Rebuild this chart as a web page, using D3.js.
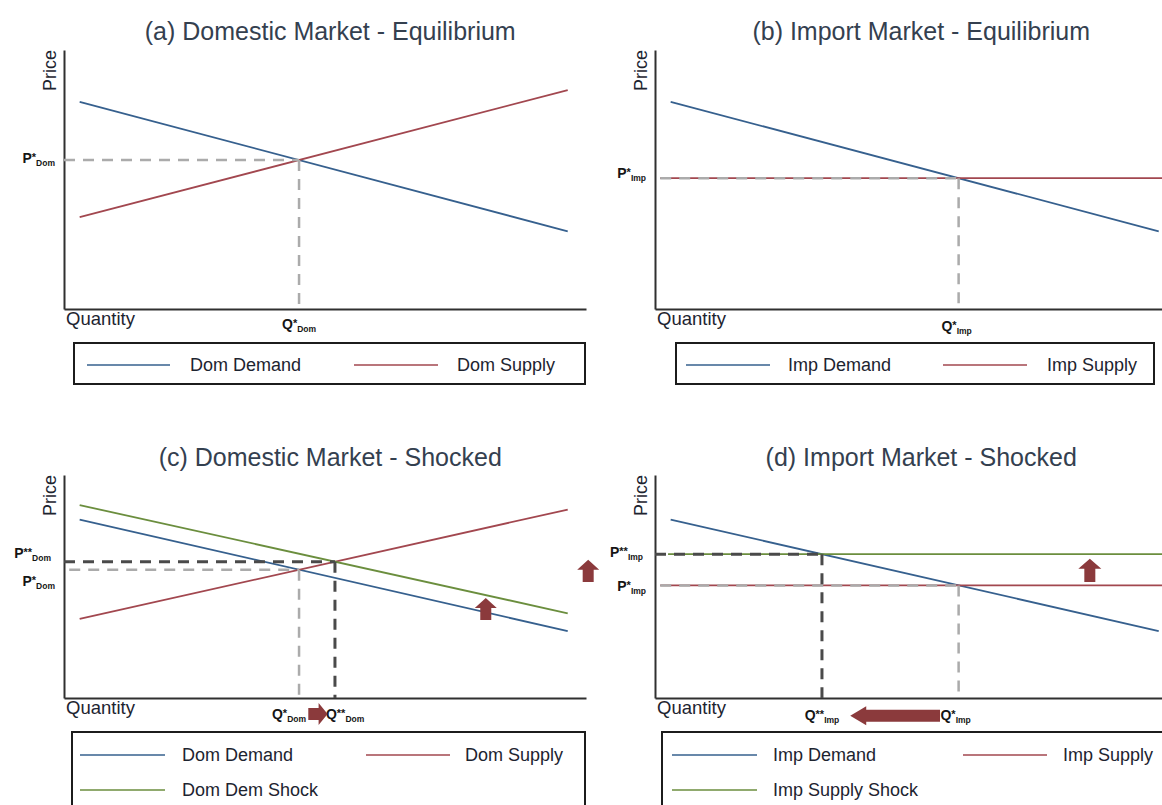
<!DOCTYPE html>
<html>
<head>
<meta charset="utf-8">
<script src="https://cdn.jsdelivr.net/npm/d3@7"></script>
<style>
  body { margin: 0; background: #fff; }
  svg { display: block; font-family: "Liberation Sans", Arial, sans-serif; }
</style>
</head>
<body>
<svg id="chart" width="1162" height="805"></svg>
<script>
// ---- curves: quantity q and price p on a 0–10 scale ----
const domDemand      = [{q: 0.3, p: 8.0},  {q: 9.65, p: 3.0}];
const domSupply      = [{q: 0.3, p: 3.55}, {q: 9.65, p: 8.45}];
const domDemShock    = [{q: 0.3, p: 8.65}, {q: 9.65, p: 3.8}];
const impDemand      = [{q: 0.3, p: 8.0},  {q: 9.65, p: 3.0}];
const impSupply      = [{q: 0.1, p: 5.05}, {q: 10,   p: 5.05}];
const impSupplyShock = [{q: 0.25, p: 6.45}, {q: 10,  p: 6.45}];

// ---- shift arrows (from -> to, in q/p units) ----
const demandShiftArrow   = [{q: 8.08, p: 3.5},  {q: 8.08, p: 4.48}];
const quantityUpArrowDom = [{q: 4.68, p: -0.72}, {q: 5.05, p: -0.72}];
const supplyShiftArrow   = [{q: 8.33, p: 5.2},  {q: 8.33, p: 6.25}];
const priceRiseArrow     = [{q: -1.28, p: 5.2}, {q: -1.28, p: 6.2}];
const quantityDropArrow  = [{q: 5.46, p: -0.8}, {q: 3.74, p: -0.8}];

// ---- text ----
const titles = [
  "(a) Domestic Market - Equilibrium",
  "(b) Import Market - Equilibrium",
  "(c) Domestic Market - Shocked",
  "(d) Import Market - Shocked"
];
const axisNames = ["Price", "Quantity"];
const legendA = ["Dom Demand", "Dom Supply"];
const legendB = ["Imp Demand", "Imp Supply"];
const legendC = ["Dom Demand", "Dom Supply", "Dom Dem Shock"];
const legendD = ["Imp Demand", "Imp Supply", "Imp Supply Shock"];

const BLUE = "#36608e", RED = "#a2474f", GREEN = "#6b8e3e", ARROW = "#8b3a3c";
const LIGHT = "#ababab", DARK = "#4a4a4a";

const svg = d3.select("#chart");

function lineCoef(s) {
  const m = (s[1].p - s[0].p) / (s[1].q - s[0].q);
  return {m, c: s[0].p - m * s[0].q};
}
function intersect(a, b) {
  const A = lineCoef(a), B = lineCoef(b);
  const q = (B.c - A.c) / (A.m - B.m);
  return {q, p: A.m * q + A.c};
}

function blockArrow(g, x, y, seg, o) {
  const x1 = x(seg[0].q), y1 = y(seg[0].p), x2 = x(seg[1].q), y2 = y(seg[1].p);
  const L = Math.hypot(x2 - x1, y2 - y1), ux = (x2 - x1) / L, uy = (y2 - y1) / L;
  const nx = -uy, ny = ux;
  const bx = x2 - ux * o.head, by = y2 - uy * o.head;
  const pts = [
    [x1 + nx * o.shaft, y1 + ny * o.shaft],
    [bx + nx * o.shaft, by + ny * o.shaft],
    [bx + nx * o.half, by + ny * o.half],
    [x2, y2],
    [bx - nx * o.half, by - ny * o.half],
    [bx - nx * o.shaft, by - ny * o.shaft],
    [x1 - nx * o.shaft, y1 - ny * o.shaft]
  ];
  g.append("path").attr("d", d3.line()(pts) + "Z").attr("fill", ARROW);
}

// subscripted marker label such as P*Dom
function markLabel(g, xPos, yPos, anchor, base, stars, sub) {
  const t = g.append("text").attr("x", xPos).attr("y", yPos)
    .attr("text-anchor", anchor).attr("fill", "#151515").attr("font-weight", "bold");
  t.append("tspan").attr("font-size", 14).text(base);
  t.append("tspan").attr("font-size", 11).attr("dy", -2).text(stars);
  t.append("tspan").attr("font-size", 8.5).attr("dy", 5).text(sub);
}

const panels = [
  {title: titles[0], x0: 64, top: 50, bottom: 309, titleY: 40,
   series: [[domDemand, BLUE], [domSupply, RED]],
   guides: [{a: domDemand, b: domSupply, col: LIGHT, w: 2.5, h0: 0}],
   plabels: [{g: 0, stars: "*", sub: "Dom", dy: 3}],
   qlabels: [{g: 0, stars: "*", sub: "Dom", anchor: "middle", dx: 0, y: 329}],
   legend: {x: 74, y: 343, w: 511, h: 41, labels: legendA,
            items: [[13, 96, 116, 22], [280, 364, 383, 22]]}},
  {title: titles[1], x0: 655, top: 50, bottom: 309, titleY: 40,
   series: [[impDemand, BLUE], [impSupply, RED]],
   guides: [{a: impDemand, b: impSupply, col: LIGHT, w: 2.5, h0: 0.1}],
   plabels: [{g: 0, stars: "*", sub: "Imp", dy: 0}],
   qlabels: [{g: 0, stars: "*", sub: "Imp", anchor: "middle", dx: -2, y: 331}],
   legend: {x: 676, y: 343, w: 478, h: 41, labels: legendB,
            items: [[10, 94, 112, 22], [267, 351, 371, 22]]}},
  {title: titles[2], x0: 64, top: 475, bottom: 698, titleY: 466,
   series: [[domDemand, BLUE], [domSupply, RED], [domDemShock, GREEN]],
   guides: [{a: domDemand, b: domSupply, col: LIGHT, w: 2.5, h0: 0.1},
            {a: domDemShock, b: domSupply, col: DARK, w: 3, h0: 0}],
   plabels: [{g: 1, stars: "**", sub: "Dom", dy: -4, dx: -4}, {g: 0, stars: "*", sub: "Dom", dy: 16}],
   qlabels: [{g: 0, stars: "*", sub: "Dom", anchor: "end", dx: 7, y: 719},
             {g: 1, stars: "**", sub: "Dom", anchor: "start", dx: -9, y: 719}],
   arrows: [[demandShiftArrow, {head: 10, half: 11, shaft: 5.5}],
            [quantityUpArrowDom, {head: 9, half: 11, shaft: 6}]],
   legend: {x: 72, y: 732, w: 513, h: 95, labels: legendC,
            items: [[8, 93, 110, 23], [294, 378, 393, 23], [8, 93, 110, 58]]}},
  {title: titles[3], x0: 655, top: 475, bottom: 698, titleY: 466,
   series: [[impDemand, BLUE], [impSupply, RED], [impSupplyShock, GREEN]],
   guides: [{a: impDemand, b: impSupply, col: LIGHT, w: 2.5, h0: 0.1},
            {a: impDemand, b: impSupplyShock, col: DARK, w: 3, h0: 0}],
   plabels: [{g: 1, stars: "**", sub: "Imp", dy: 3, dx: -3}, {g: 0, stars: "*", sub: "Imp", dy: 6}],
   qlabels: [{g: 1, stars: "**", sub: "Imp", anchor: "middle", dx: 0, y: 720},
             {g: 0, stars: "*", sub: "Imp", anchor: "middle", dx: -3, y: 720}],
   arrows: [[supplyShiftArrow, {head: 10, half: 11.5, shaft: 5.5}],
            [priceRiseArrow, {head: 10, half: 11, shaft: 5.5}],
            [quantityDropArrow, {head: 16, half: 9.5, shaft: 6}]],
   legend: {x: 662, y: 732, w: 520, h: 95, labels: legendD,
            items: [[10, 95, 111, 23], [301, 385, 401, 23], [10, 95, 111, 58]]}}
];

const legendColors = [BLUE, RED, GREEN];

panels.forEach(P => {
  const x = d3.scaleLinear().domain([0, 10]).range([P.x0, P.x0 + 522]);
  const y = d3.scaleLinear().domain([0, 10]).range([P.bottom, P.top]);
  const g = svg.append("g");

  // title
  g.append("text").attr("x", x(5.1)).attr("y", P.titleY)
    .attr("text-anchor", "middle").attr("font-size", 25).attr("fill", "#34404f")
    .text(P.title);

  // axes (lines only)
  const ax = g.append("g").attr("transform", `translate(${P.x0},0)`)
    .call(d3.axisLeft(y).ticks(0).tickSizeOuter(0));
  const bx = g.append("g").attr("transform", `translate(0,${P.bottom})`)
    .call(d3.axisBottom(x).ticks(0).tickSizeOuter(0));
  [ax, bx].forEach(a => a.select(".domain").attr("stroke", "#303030").attr("stroke-width", 2));

  g.append("text").attr("transform", `translate(${P.x0 - 8},${P.top}) rotate(-90)`)
    .attr("text-anchor", "end").attr("font-size", 18).attr("fill", "#1d2430").text(axisNames[0]);
  g.append("text").attr("x", P.x0 + 2).attr("y", P.bottom + 16)
    .attr("font-size", 18.5).attr("fill", "#1d2430").text(axisNames[1]);

  // curves
  const line = d3.line().x(d => x(d.q)).y(d => y(d.p));
  P.series.forEach(([data, col]) => {
    g.append("path").attr("d", line(data)).attr("fill", "none")
      .attr("stroke", col).attr("stroke-width", 1.8);
  });

  // equilibrium guides
  const eqs = P.guides.map(gd => intersect(gd.a, gd.b));
  P.guides.forEach((gd, i) => {
    const e = eqs[i];
    g.append("path")
      .attr("d", line([{q: gd.h0, p: e.p}, e]) )
      .attr("fill", "none").attr("stroke", gd.col).attr("stroke-width", gd.w)
      .attr("stroke-dasharray", "11,8");
    g.append("path")
      .attr("d", line([e, {q: e.q, p: 0}]))
      .attr("fill", "none").attr("stroke", gd.col).attr("stroke-width", gd.w)
      .attr("stroke-dasharray", "11,8");
  });

  P.plabels.forEach(l => {
    const e = eqs[l.g];
    markLabel(g, P.x0 - 9 + (l.dx || 0), y(e.p) + l.dy, "end", "P", l.stars, l.sub);
  });
  P.qlabels.forEach(l => {
    const e = eqs[l.g];
    markLabel(g, x(e.q) + l.dx, l.y, l.anchor, "Q", l.stars, l.sub);
  });

  (P.arrows || []).forEach(([seg, o]) => blockArrow(g, x, y, seg, o));

  // legend
  const L = P.legend;
  const lg = g.append("g").attr("transform", `translate(${L.x},${L.y})`);
  lg.append("rect").attr("width", L.w).attr("height", L.h)
    .attr("fill", "#fff").attr("stroke", "#1c1c1c").attr("stroke-width", 2);
  L.items.forEach(([l0, l1, tx, ty], i) => {
    lg.append("line").attr("x1", l0).attr("x2", l1).attr("y1", ty).attr("y2", ty)
      .attr("stroke", legendColors[i]).attr("stroke-width", 1.6);
    lg.append("text").attr("x", tx).attr("y", ty + 6).attr("font-size", 18)
      .attr("fill", "#1d2430").text(L.labels[i]);
  });
});
</script>
</body>
</html>
